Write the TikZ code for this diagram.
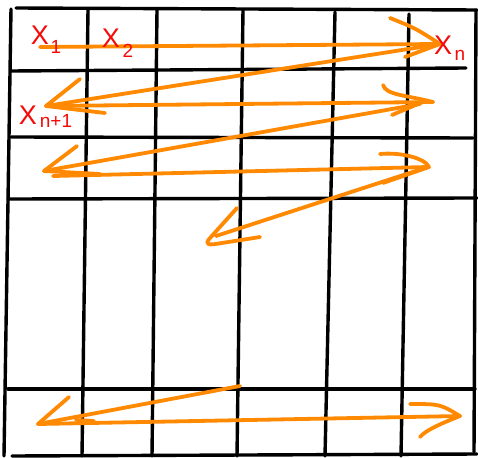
\documentclass[tikz,border=0pt]{standalone}
\usepackage{fontspec}
\setmainfont{Liberation Sans}
\definecolor{pathorange}{RGB}{255,137,0}
\definecolor{labelred}{RGB}{245,10,10}
\tikzset{
  gridline/.style={line width=3.4pt, black, line cap=round},
  zig/.style={line width=3.8pt, pathorange, line cap=round, line join=round},
  bigx/.style={text=labelred, inner sep=0pt, font=\fontsize{27}{27}\selectfont},
  subx/.style={text=labelred, inner sep=0pt, font=\fontsize{19}{19}\selectfont},
}
\begin{document}
\begin{tikzpicture}[x=1pt,y=-1pt]
\useasboundingbox (0,0) rectangle (478,457);
\fill[white] (0,0) rectangle (478,457);

% hand-ruled table
\draw[gridline] (16,8) -- (477,10);
\draw[gridline] (11,9) -- (4,456);
\draw[gridline] (476,10) -- (474,452);
\draw[gridline] (12,456) -- (477,454);
\draw[gridline] (11,71) -- (466,68);
\draw[gridline] (11,137) -- (473,138);
\draw[gridline] (8,199) -- (477,198);
\draw[gridline] (8,389) -- (475,389);
\draw[gridline] (88,10) -- (82,456);
\draw[gridline] (157,10) -- (152,456);
\draw[gridline] (243,10) -- (237,456);
\draw[gridline] (335,12) -- (325,456);
\draw[gridline] (409,14) -- (401,456);

% turning points of the row-by-row sweep
\coordinate (s0) at (40,47);
\coordinate (t1) at (440,44);
\coordinate (t2) at (46,106);
\coordinate (t3) at (433,102);
\coordinate (t4) at (44,171);
\coordinate (t5) at (428,167);
\coordinate (t6) at (216,236);
\coordinate (s7) at (240,386);
\coordinate (t7) at (38,424);
\coordinate (t8) at (460,416);

% row 1
\draw[zig] (s0) -- (t1);
\draw[zig] (390,18) .. controls (415,28) .. (t1) -- (405,57);
% back to row 2
\draw[zig] (t1) -- (t2);
\draw[zig] (80,79) -- (t2) -- (105,113);
\draw[zig] (t2) -- (t3);
\draw[zig] (383,85) .. controls (386,95) and (405,95) .. (t3);
\draw[zig] (392,115) -- (425,101);
% back to row 3
\draw[zig] (420,104) -- (t4);
\draw[zig] (77,146) -- (t4) -- (100,174);
\draw[zig] (53,176) -- (t5);
\draw[zig] (380,154) .. controls (400,152) and (425,158) .. (429,167) -- (383,183);
% on towards the lower rows
\draw[zig] (t5) -- (t6);
\draw[zig] (237,208) -- (210,238) .. controls (203,246) and (210,245) .. (222,243) -- (260,237);
% last row
\draw[zig] (s7) -- (t7);
\draw[zig] (69,397) -- (t7);
\draw[zig] (t7) -- (t8);
\draw[zig] (76,420) -- (94,421);
\draw[zig] (410,404) .. controls (440,404) .. (t8) .. controls (440,424) and (426,430) .. (420,437);

% cell labels
\node[bigx] (x1) at (40,35) {X};
\node[subx] (x1s) at (56,47) {1};
\node[bigx] (x2) at (111,38) {X};
\node[subx] (x2s) at (128,51) {2};
\node[bigx] (xn) at (443,45) {X};
\node[subx] (xns) at (460,55) {n};
\node[bigx] (xm) at (28,115) {X};
\node[subx] (xms) at (56,121) {n+1};
\end{tikzpicture}
\end{document}
